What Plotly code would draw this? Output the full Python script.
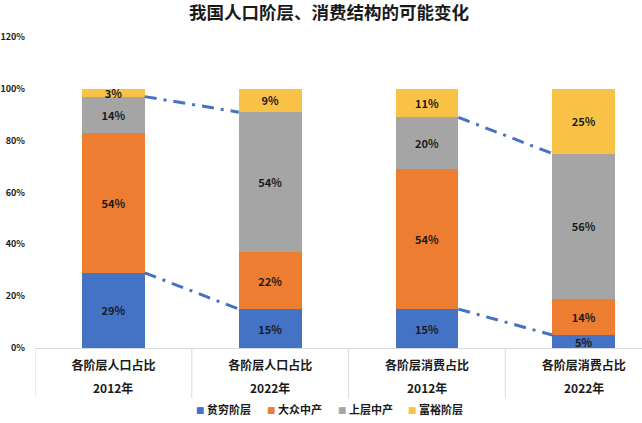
import plotly.graph_objects as go

title = "我国人口阶层、消费结构的可能变化"
groups = ["各阶层人口占比", "各阶层人口占比", "各阶层消费占比", "各阶层消费占比"]
years = ["2012年", "2022年", "2012年", "2022年"]
series_names = ["贫穷阶层", "大众中产", "上层中产", "富裕阶层"]
poor = [29, 15, 15, 5]
mass = [54, 22, 54, 14]
upper = [14, 54, 20, 56]
rich = [3, 9, 11, 25]
colors = ["#4472C4", "#ED7D31", "#A5A5A5", "#F9C247"]
y_ticks = [0, 20, 40, 60, 80, 100, 120]

FONT = "Noto Sans CJK SC"
TXT = "#1a1a1a"
BAR_W = 0.40
W, H = 642, 423
ML, MT, MB = 35, 37, 75
PLOT_H = H - MT - MB
XR = [-0.5, -0.5 + (W - ML) / 156.8]
xpos = list(range(len(groups)))
legend_left = [156, 227, 298, 368]

fig = go.Figure()
for name, vals, col in zip(series_names, [poor, mass, upper, rich], colors):
    fig.add_trace(go.Bar(
        x=xpos, y=vals, name=name, marker_color=col, marker_line_width=0,
        width=BAR_W, text=[f"{v}%" for v in vals], textposition="inside",
        insidetextanchor="middle", textangle=0, showlegend=False,
        textfont=dict(family=FONT, size=11, color=TXT, weight="bold"),
        hoverinfo="skip",
    ))

# legend entries (one small legend per series so spacing matches)
legend_layouts = {}
for k, (name, col) in enumerate(zip(series_names, colors)):
    key = "legend" if k == 0 else f"legend{k + 1}"
    fig.add_trace(go.Scatter(
        x=[None], y=[None], mode="markers", legend=key,
        name=f"<span style='font-size:8.5px;color:{col}'>■</span> {name}",
        marker=dict(symbol="square", size=1, color="rgba(0,0,0,0)",
                    line=dict(width=0)),
        hoverinfo="skip",
    ))
    legend_layouts[key] = dict(
        orientation="h", xref="container", yref="container",
        x=legend_left[k] / W, xanchor="left", y=1 - 410 / H, yanchor="middle",
        font=dict(family=FONT, size=11, color=TXT, weight="bold"),
        itemwidth=30, bgcolor="rgba(0,0,0,0)",
    )

# dash-dot connector lines between pairs of bars
upper_top = [p + m + u for p, m, u in zip(poor, mass, upper)]
for a, b in [(0, 1), (2, 3)]:
    for series in (upper_top, poor):
        fig.add_trace(go.Scatter(
            x=[xpos[a] + BAR_W / 2, xpos[b] - BAR_W / 2], y=[series[a], series[b]],
            mode="lines", showlegend=False, hoverinfo="skip",
            line=dict(color="#4472C4", width=3, dash="12px,7px,3px,7px"),
        ))

# category box dividers and year labels
shapes = []
for i in xpos:
    shapes.append(dict(type="line", xref="x", yref="paper", x0=i - 0.5, x1=i - 0.5,
                       y0=0, y1=-50 / PLOT_H, line=dict(color="#D9D9D9", width=1)))
annotations = [dict(x=i, y=0, xref="x", yref="paper", yshift=-39, yanchor="middle",
                    text=yr, showarrow=False,
                    font=dict(family=FONT, size=12, color=TXT, weight="bold"))
               for i, yr in zip(xpos, years)]

fig.update_layout(
    width=W, height=H,
    margin=dict(l=ML, r=0, t=MT, b=MB, autoexpand=False),
    barmode="stack",
    paper_bgcolor="white", plot_bgcolor="white",
    font=dict(family=FONT, color=TXT),
    uniformtext=dict(minsize=11, mode="show"),
    title=dict(text=title, x=329 / W, xanchor="center", y=1 - 13 / H, yanchor="middle",
               font=dict(family=FONT, size=17.5, color=TXT, weight="bold")),
    xaxis=dict(range=XR, tickvals=xpos, ticktext=groups, showline=True,
               linecolor="#D9D9D9", linewidth=1, ticks="", ticklabelstandoff=7,
               tickfont=dict(family=FONT, size=12, color=TXT, weight="bold"),
               showgrid=False, zeroline=False, automargin=False),
    yaxis=dict(range=[0, 120], tickvals=y_ticks, ticktext=[f"{v}%" for v in y_ticks],
               showgrid=False, zeroline=False, showline=False, ticklabelstandoff=9,
               automargin=False,
               tickfont=dict(family=FONT, size=9, color=TXT, weight="bold")),
    shapes=shapes, annotations=annotations,
    showlegend=True,
    hovermode=False,
    **legend_layouts,
)
fig.write_html("out.html", config={"displayModeBar": False},
               post_script="document.body.style.margin='0px';")
